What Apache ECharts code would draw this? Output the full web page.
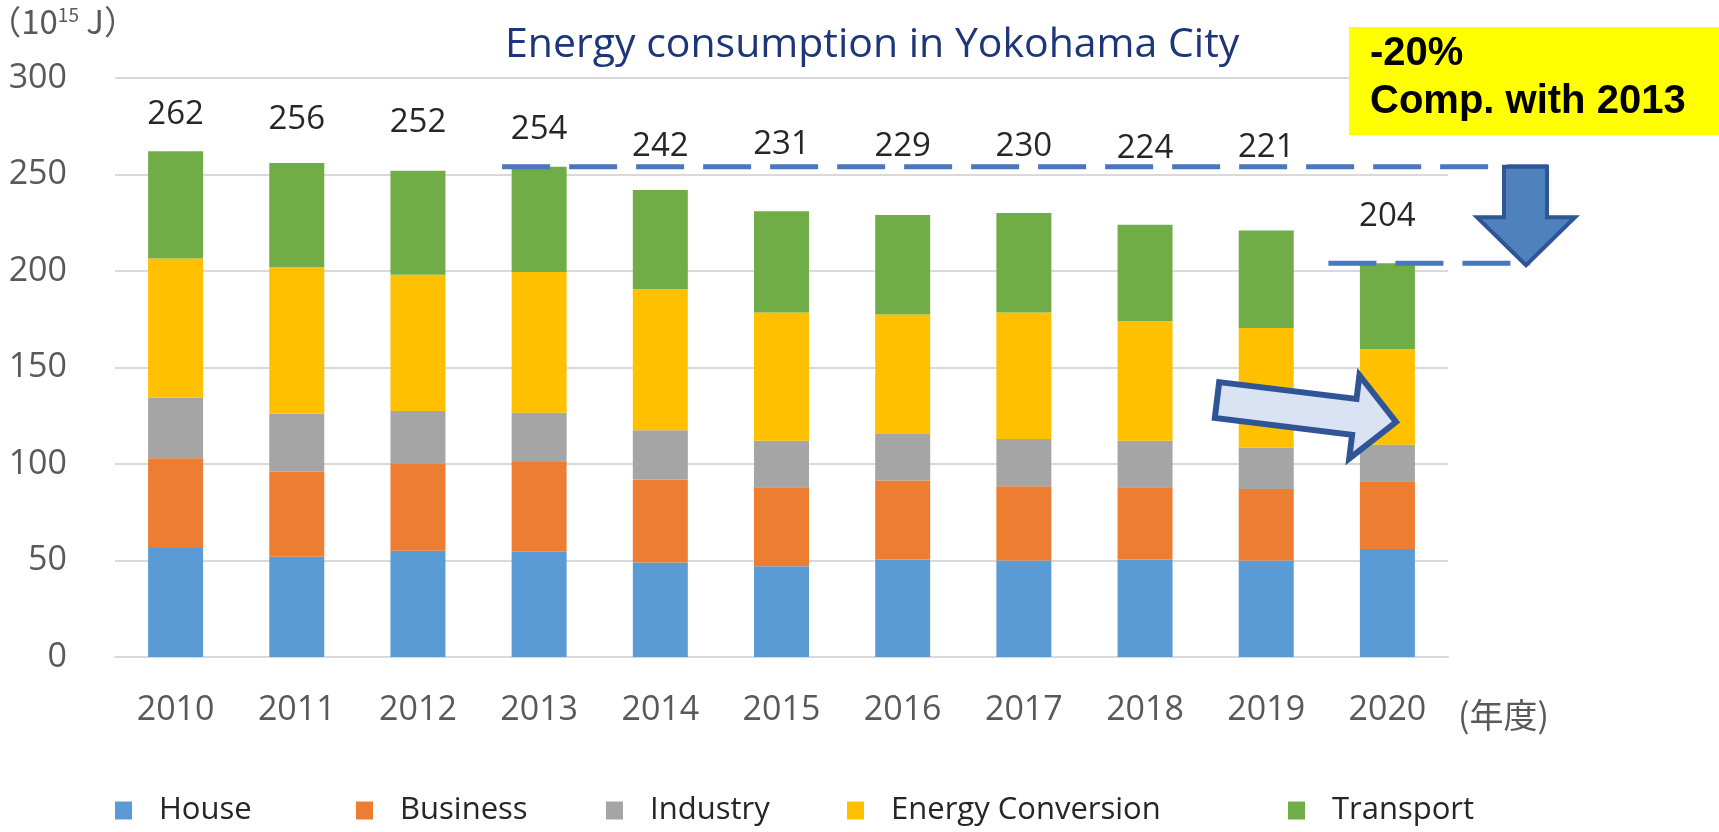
<!DOCTYPE html>
<html lang="en">
<head>
  <meta charset="UTF-8">
  <title>Energy consumption in Yokohama City</title>
  <script src="https://cdn.jsdelivr.net/npm/echarts@6/dist/echarts.min.js"></script>
  <style>html,body{margin:0;background:#fff}#main{width:1719px;height:832px}</style>
</head>
<body>
  <div id="main"></div>
  <script>
  // values (10^15 J)
  const years = ['2010','2011','2012','2013','2014','2015','2016','2017','2018','2019','2020'];
  const house = [56.5, 52, 55, 54.5, 49, 47, 50.5, 50, 50.5, 50, 56];
  const business = [46.5, 44, 45, 46.5, 43, 41, 41, 38.5, 37.5, 37, 35];
  const industry = [31.5, 30, 27.5, 25.5, 25.5, 24, 24, 24.5, 24, 21.5, 19];
  const energyConv = [72, 76, 70.5, 73, 73, 66.5, 62, 65.5, 62, 62, 49.5];
  const transport = [55.5, 54, 54, 54.5, 51.5, 52.5, 51.5, 51.5, 50, 50.5, 44.5];
  const totals = [262, 256, 252, 254, 242, 231, 229, 230, 224, 221, 204];

  // label lift above each bar (style only)
  const labelLift = [20, 27, 32, 21, 27, 50, 52, 50, 60, 66, 30];

  const names = ['House', 'Business', 'Industry', 'Energy Conversion', 'Transport'];
  const colors = ['#5b9bd5', '#ed7d31', '#a5a5a5', '#ffc000', '#70ad47'];
  const legendLeft = [110, 351, 601, 842, 1283];
  const txt = '#595959';
  const font = 'Open Sans';

  const chart = echarts.init(document.getElementById('main'));

  const bar = (name, data, i) => ({
    name, type: 'bar', stack: 'total', data,
    barWidth: 55,
    itemStyle: { color: colors[i] },
    emphasis: { disabled: true }
  });

  const series = [
    bar(names[0], house, 0),
    bar(names[1], business, 1),
    bar(names[2], industry, 2),
    bar(names[3], energyConv, 3),
    bar(names[4], transport, 4)
  ];
  series[4].data = transport.map((v, i) => ({
    value: v,
    label: { show: true, position: 'top', distance: labelLift[i], formatter: String(totals[i]) }
  }));
  series[4].label = { fontFamily: font, fontSize: 33, color: '#262626' };

  chart.setOption({
    animation: false,
    color: colors,
    title: {
      text: 'Energy consumption in Yokohama City',
      left: 500, top: 20,
      textStyle: { fontFamily: font, fontSize: 41, fontWeight: 'normal', color: '#1c3679' }
    },
    legend: names.map((n, i) => ({
      data: [n], left: legendLeft[i], top: 790,
      itemWidth: 17, itemHeight: 18, icon: 'rect',
      textStyle: { fontFamily: font, fontSize: 31, color: '#262626', padding: [0, 0, 0, 22] }
    })),
    grid: { left: 115, right: 271, top: 78, bottom: 175, outerBoundsMode: 'none', containLabel: false },
    xAxis: {
      type: 'category', data: years,
      name: '(年度)', nameLocation: 'end', nameGap: 10,
      nameTextStyle: { fontFamily: 'Noto Sans CJK JP', fontSize: 34, color: txt, verticalAlign: 'top', lineHeight: 116 },
      axisTick: { show: false },
      axisLine: { lineStyle: { color: '#d9d9d9', width: 2 } },
      axisLabel: { fontFamily: font, fontSize: 34, color: txt, margin: 36 }
    },
    yAxis: {
      type: 'value', min: 0, max: 300, interval: 50,
      name: '（10{sup|15} J）', nameLocation: 'end', nameGap: 40,
      nameTextStyle: {
        fontFamily: 'Noto Sans CJK JP', fontSize: 33, color: txt, align: 'right', padding: [0, -22, 0, 0],
        rich: { sup: { fontSize: 19, verticalAlign: 'top', padding: [0, 0, 14, 0], color: txt } }
      },
      axisLine: { show: false }, axisTick: { show: false },
      splitLine: { lineStyle: { color: '#d9d9d9', width: 2 } },
      axisLabel: { fontFamily: font, fontSize: 34, color: txt, margin: 48 }
    },
    series
  });

  // annotations placed through the chart's own scales
  const yTop = chart.convertToPixel({ yAxisIndex: 0 }, totals[3]);
  const yLow = chart.convertToPixel({ yAxisIndex: 0 }, totals[10]);
  const x13 = chart.convertToPixel({ xAxisIndex: 0 }, years[3]);
  const x20 = chart.convertToPixel({ xAxisIndex: 0 }, years[10]);
  const dash = { stroke: '#4a76bd', lineWidth: 5, lineDash: [48, 19] };

  // tilted block arrow
  const tail = [1217, 400], tip = [1396, 422];
  const ang = Math.atan2(tip[1] - tail[1], tip[0] - tail[0]);
  const len = Math.hypot(tip[0] - tail[0], tip[1] - tail[1]);
  const local = [[0, -18], [len - 42, -18], [len - 42, -42], [len, 0], [len - 42, 42], [len - 42, 18], [0, 18]];
  const pts = local.map(([u, v]) => [
    tail[0] + u * Math.cos(ang) - v * Math.sin(ang),
    tail[1] + u * Math.sin(ang) + v * Math.cos(ang)
  ]);

  chart.setOption({
    graphic: [
      { type: 'line', z: 50, shape: { x1: x13 - 37, y1: yTop, x2: 1548, y2: yTop }, style: dash },
      { type: 'line', z: 50, shape: { x1: x20 - 59, y1: yLow, x2: 1530, y2: yLow }, style: dash },
      {
        type: 'polygon', z: 60,
        shape: { points: [[1504, yTop], [1547, yTop], [1547, yLow - 46], [1575, yLow - 46], [1526, yLow + 2], [1477, yLow - 46], [1504, yLow - 46]] },
        style: { fill: '#4f81bd', stroke: '#2f5597', lineWidth: 4 }
      },
      {
        type: 'polygon', z: 60, shape: { points: pts },
        style: { fill: '#dae3f3', stroke: '#2f5597', lineWidth: 6 }
      },
      { type: 'rect', z: 70, shape: { x: 1349, y: 27, width: 370, height: 108 }, style: { fill: '#ffff00' } },
      {
        type: 'text', z: 71, x: 1370, y: 30,
        style: { text: '-20%\nComp. with 2013', font: 'bold 40px "Liberation Sans"', fill: '#000', lineHeight: 48 }
      }
    ]
  });
  </script>
</body>
</html>
